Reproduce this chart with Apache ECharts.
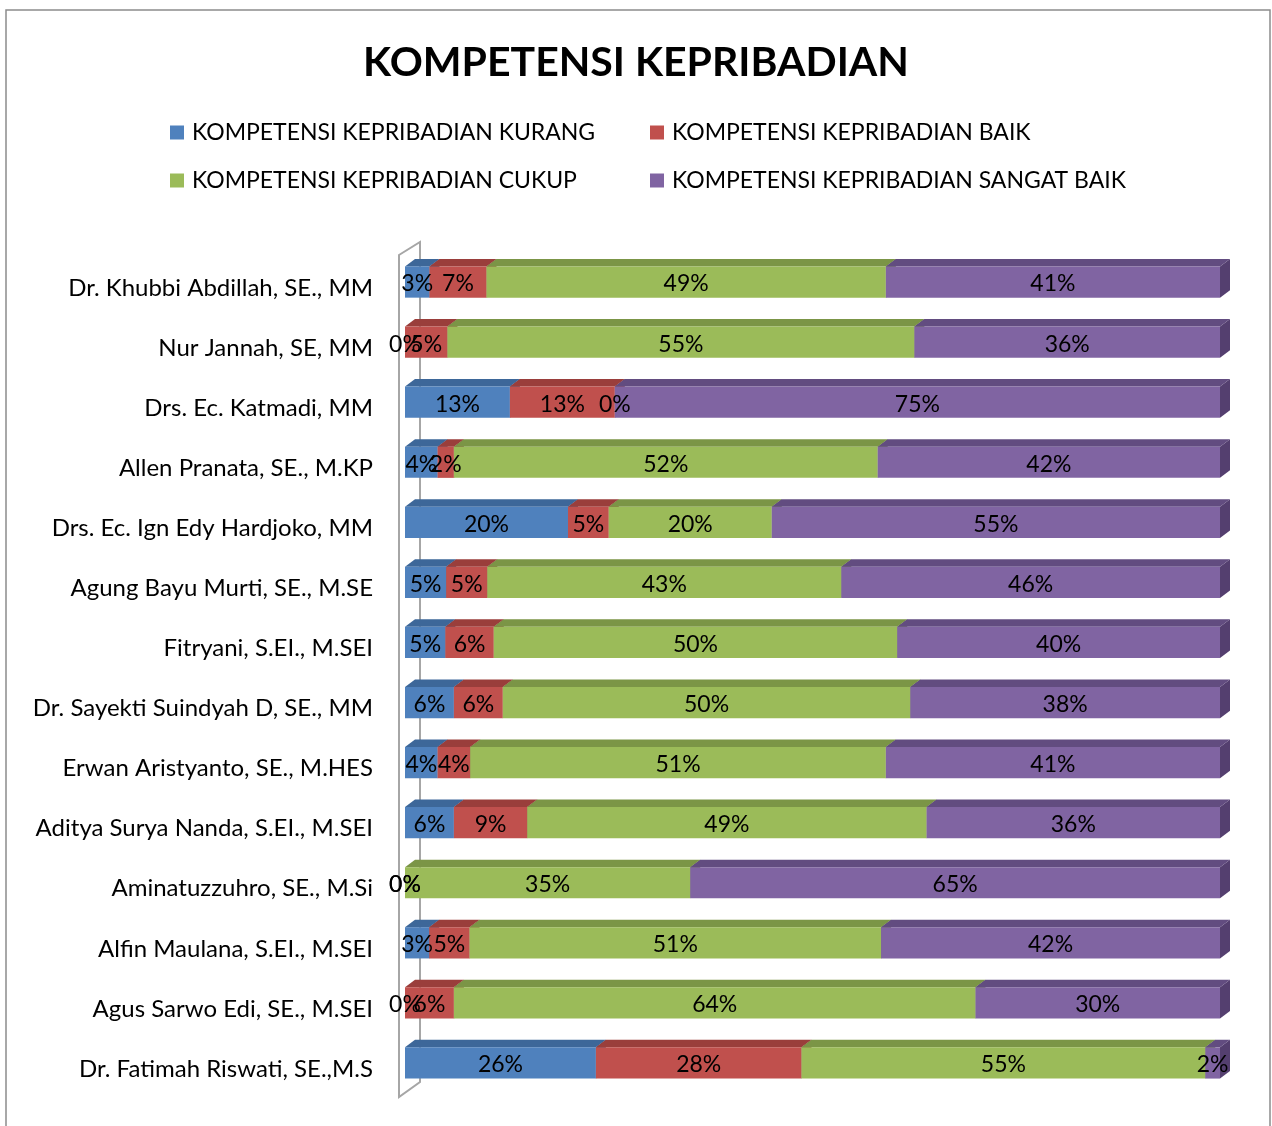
<!DOCTYPE html>
<html>
<head>
<meta charset="utf-8">
<title>Kompetensi Kepribadian</title>
<script src="https://cdn.jsdelivr.net/npm/echarts@6/dist/echarts.min.js"></script>
<style>
html, body { margin: 0; padding: 0; background: #fff; }
#chart { width: 1272px; height: 1126px; }
</style>
</head>
<body>
<div id="chart"></div>
<script>
var dosen = [
  "Dr. Khubbi Abdillah, SE., MM",
  "Nur Jannah, SE, MM",
  "Drs. Ec. Katmadi, MM",
  "Allen Pranata, SE., M.KP",
  "Drs. Ec. Ign Edy Hardjoko, MM",
  "Agung Bayu Murti, SE., M.SE",
  "Fitryani, S.EI., M.SEI",
  "Dr. Sayekti Suindyah D, SE., MM",
  "Erwan Aristyanto, SE., M.HES",
  "Aditya Surya Nanda, S.EI., M.SEI",
  "Aminatuzzuhro, SE., M.Si",
  "Alfin Maulana, S.EI., M.SEI",
  "Agus Sarwo Edi, SE., M.SEI",
  "Dr. Fatimah Riswati, SE.,M.S"
];

var seriesNames = [
  "KOMPETENSI KEPRIBADIAN KURANG",
  "KOMPETENSI KEPRIBADIAN BAIK",
  "KOMPETENSI KEPRIBADIAN CUKUP",
  "KOMPETENSI KEPRIBADIAN SANGAT BAIK"
];

var kurang     = [3, 0, 13, 4, 20, 5, 5, 6, 4, 6, 0, 3, 0, 26];
var baik       = [7, 5, 13, 2, 5, 5, 6, 6, 4, 9, 0, 5, 6, 28];
var cukup      = [49, 55, 0, 52, 20, 43, 50, 50, 51, 49, 35, 51, 64, 55];
var sangatBaik = [41, 36, 75, 42, 55, 46, 40, 38, 41, 36, 65, 42, 30, 2];

var valuesBySeries = [kurang, baik, cukup, sangatBaik];
var faceColors = ["#4F81BD", "#C0504D", "#9BBB59", "#8064A2"];
var topColors  = ["#3D6799", "#9A3E3B", "#7B9546", "#624C80"];
var sideColors = ["#355a86", "#873634", "#6c833d", "#543f6f"];

// 100% stacked: each segment runs from its cumulative start to end, label keeps the raw value
function buildSegments(s) {
  return dosen.map(function (name, i) {
    var total = 0, start = 0;
    for (var k = 0; k < valuesBySeries.length; k++) {
      total += valuesBySeries[k][i];
      if (k < s) start += valuesBySeries[k][i];
    }
    var raw = valuesBySeries[s][i];
    return [start / total * 100, i, (start + raw) / total * 100, raw];
  });
}

function renderSegment(params, api) {
  var s = params.seriesIndex;
  var cat = api.value(1);
  var p0 = api.coord([api.value(0), cat]);
  var p1 = api.coord([api.value(2), cat]);
  var h = api.size([0, 1])[1] * 0.52;
  var top = p0[1] - h / 2, bottom = p0[1] + h / 2;
  var dx = 10, dy = 7.5;
  var x0 = p0[0], x1 = p1[0];
  var children = [];
  if (api.value(3) > 0) {
    children.push(
      { type: "polygon", shape: { points: [[x1, top], [x1 + dx, top - dy], [x1 + dx, bottom - dy], [x1, bottom]] }, style: { fill: sideColors[s] } },
      { type: "polygon", shape: { points: [[x0, top], [x0 + dx, top - dy], [x1 + dx, top - dy], [x1, top]] }, style: { fill: topColors[s] } },
      { type: "rect", shape: { x: x0, y: top, width: x1 - x0, height: h }, style: { fill: faceColors[s] } }
    );
  }
  children.push({
    type: "text", z2: 100,
    style: {
      text: api.value(3) + "%", x: (x0 + x1) / 2, y: p0[1] + 2,
      align: "center", verticalAlign: "middle",
      fill: "#000", fontSize: 23, fontFamily: "Lato"
    }
  });
  return { type: "group", children: children };
}

var chart = echarts.init(document.getElementById("chart"));

var series = seriesNames.map(function (name, s) {
  return {
    name: name,
    type: "custom",
    renderItem: renderSegment,
    itemStyle: { color: faceColors[s] },
    encode: { x: [0, 2], y: 1 },
    data: buildSegments(s)
  };
});

var legendText = { fontSize: 23, fontFamily: "Lato", color: "#000", padding: [0, 0, 0, 3] };

chart.setOption({
  animation: false,
  backgroundColor: "#fff",
  title: {
    text: "KOMPETENSI KEPRIBADIAN",
    left: "center",
    top: 37,
    textStyle: { fontSize: 41, fontWeight: "bold", fontFamily: "Lato", color: "#000" }
  },
  legend: [
    {
      data: [seriesNames[0], seriesNames[2]],
      orient: "vertical", left: 165, top: 116,
      icon: "rect", itemWidth: 14, itemHeight: 14, itemGap: 25,
      textStyle: legendText
    },
    {
      data: [seriesNames[1], seriesNames[3]],
      orient: "vertical", left: 645, top: 116,
      icon: "rect", itemWidth: 14, itemHeight: 14, itemGap: 25,
      textStyle: legendText
    }
  ],
  grid: { left: 405, right: 52, top: 252, bottom: 33, containLabel: false },
  xAxis: { type: "value", min: 0, max: 100, show: false },
  yAxis: {
    type: "category",
    data: dosen,
    inverse: true,
    axisLine: { show: false },
    axisTick: { show: false },
    axisLabel: {
      margin: 32,
      formatter: function (v) { return "{n|" + v + "}"; },
      rich: { n: { fontSize: 24, fontFamily: "Lato", color: "#000", padding: [12, 0, 0, 0] } }
    }
  },
  graphic: [
    {
      type: "rect", z: -10,
      shape: { x: 6, y: 10, width: 1264, height: 1130 },
      style: { fill: "none", stroke: "#8c8c8c", lineWidth: 1.5 }
    },
    {
      type: "polygon", z: -5,
      shape: { points: [[399, 255], [420, 242], [420, 1082], [399, 1097]] },
      style: { fill: "none", stroke: "#a6a6a6", lineWidth: 2 }
    }
  ],
  series: series
});
</script>
</body>
</html>
